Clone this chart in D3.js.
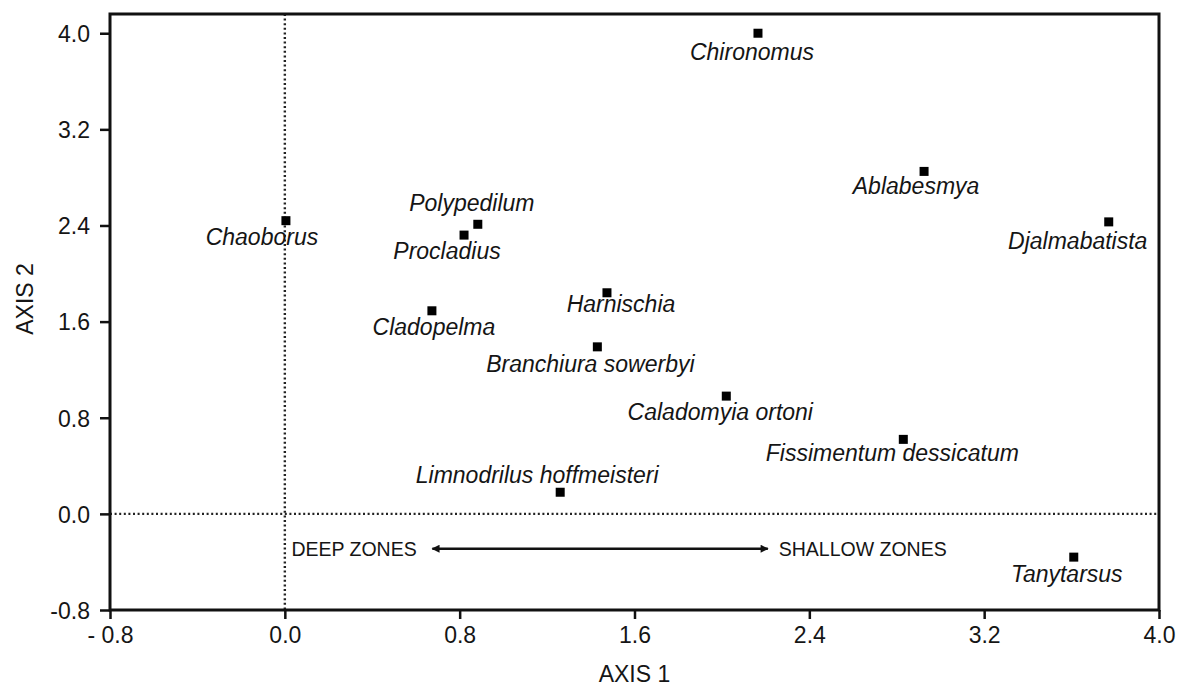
<!DOCTYPE html>
<html>
<head>
<meta charset="utf-8">
<script src="https://cdn.jsdelivr.net/npm/d3@7"></script>
<style>
  body { margin: 0; background: #fff; }
  svg text { font-family: "Liberation Sans", Arial, sans-serif; fill: #151515; }
</style>
</head>
<body>
<div id="chart"></div>
<script>
// ordination scores
const species = ["Chironomus", "Chaoborus", "Polypedilum", "Procladius", "Ablabesmya",
    "Djalmabatista", "Harnischia", "Cladopelma", "Branchiura sowerbyi", "Caladomyia ortoni",
    "Fissimentum dessicatum", "Limnodrilus hoffmeisteri", "Tanytarsus"];
const axis1 = [2.165, 0.005, 0.883, 0.82, 2.925, 3.77, 1.474, 0.673, 1.43, 2.02, 2.83, 1.26, 3.61];
const axis2 = [4.0, 2.44, 2.41, 2.32, 2.85, 2.43, 1.84, 1.69, 1.39, 0.98, 0.62, 0.18, -0.36];

const xTicks = [-0.8, 0, 0.8, 1.6, 2.4, 3.2, 4.0];
const xTickLabels = ["- 0.8", "0.0", "0.8", "1.6", "2.4", "3.2", "4.0"];
const yTicks = [-0.8, 0, 0.8, 1.6, 2.4, 3.2, 4.0];
const yTickLabels = ["-0.8", "0.0", "0.8", "1.6", "2.4", "3.2", "4.0"];

// where each label sits relative to its point (text centre, baseline)
const labelOffset = {
    "Chironomus": [-6, 27], "Chaoborus": [-24, 24], "Polypedilum": [-6, -13],
    "Procladius": [-17, 24], "Ablabesmya": [-8, 23], "Djalmabatista": [-31, 27],
    "Harnischia": [14, 19], "Cladopelma": [2, 24], "Branchiura sowerbyi": [-7, 25],
    "Caladomyia ortoni": [-6, 24], "Fissimentum dessicatum": [-11, 22],
    "Limnodrilus hoffmeisteri": [-23, -9], "Tanytarsus": [-7, 25]
};

const W = 1184, H = 689;
const margin = {left: 110, top: 14, right: 25, bottom: 79};
const w = W - margin.left - margin.right;
const h = H - margin.top - margin.bottom;

const svg = d3.select("#chart").append("svg")
    .attr("width", W)
    .attr("height", H);

const defs = svg.append("defs");
defs.append("marker")
    .attr("id", "head")
    .attr("viewBox", "0 0 10 10")
    .attr("refX", 9).attr("refY", 5)
    .attr("markerWidth", 4).attr("markerHeight", 3.2)
    .attr("orient", "auto-start-reverse")
    .attr("markerUnits", "strokeWidth")
    .append("path").attr("d", "M0,0 L10,5 L0,10 z").attr("fill", "#111");

const g = svg.append("g").attr("transform", `translate(${margin.left},${margin.top})`);

const x = d3.scaleLinear().domain([-0.8, 4.0]).range([0, w]);
const y = d3.scaleLinear().domain([-0.8, 4.16]).range([h, 0]);

// dotted zero lines
g.append("line")
    .attr("x1", x(0)).attr("x2", x(0))
    .attr("y1", 0).attr("y2", h)
    .attr("stroke", "#222").attr("stroke-width", 2.4)
    .attr("stroke-dasharray", "2,2.6");
g.append("line")
    .attr("x1", 0).attr("x2", w)
    .attr("y1", y(0)).attr("y2", y(0))
    .attr("stroke", "#222").attr("stroke-width", 2.4)
    .attr("stroke-dasharray", "2,2.6");

// axes
const xAxis = d3.axisBottom(x).tickValues(xTicks)
    .tickFormat((d, i) => xTickLabels[i]).tickSize(9).tickPadding(8);
const yAxis = d3.axisLeft(y).tickValues(yTicks)
    .tickFormat((d, i) => yTickLabels[i]).tickSize(10).tickPadding(10);

const gx = g.append("g").attr("transform", `translate(0,${h})`).call(xAxis);
const gy = g.append("g").call(yAxis);
[gx, gy].forEach(a => {
    a.select(".domain").remove();
    a.selectAll(".tick line").attr("stroke", "#111").attr("stroke-width", 2.5);
    a.selectAll(".tick text").attr("font-size", 23).attr("fill", "#151515")
        .style("font-family", "'Liberation Sans', Arial, sans-serif");
});
gy.selectAll(".tick text").attr("dy", "0.36em");

// frame
g.append("rect")
    .attr("x", 0).attr("y", 0).attr("width", w).attr("height", h)
    .attr("fill", "none").attr("stroke", "#111").attr("stroke-width", 3);

// points and labels
const pts = g.selectAll(".pt").data(species).enter().append("g").attr("class", "pt");
pts.append("rect")
    .attr("x", (d, i) => x(axis1[i]) - 4.5)
    .attr("y", (d, i) => y(axis2[i]) - 4.5)
    .attr("width", 9).attr("height", 9)
    .attr("fill", "#000");
pts.append("text")
    .attr("x", (d, i) => x(axis1[i]) + labelOffset[d][0])
    .attr("y", (d, i) => y(axis2[i]) + labelOffset[d][1])
    .attr("text-anchor", "middle")
    .attr("font-size", 23)
    .attr("font-style", "italic")
    .text(d => d);

// depth gradient annotation
g.append("text")
    .attr("x", x(0.03)).attr("y", y(-0.35))
    .attr("font-size", 19.5)
    .text("DEEP ZONES");
g.append("line")
    .attr("x1", x(0.675)).attr("x2", x(2.21))
    .attr("y1", y(-0.29)).attr("y2", y(-0.29))
    .attr("stroke", "#111").attr("stroke-width", 2.5)
    .attr("marker-start", "url(#head)")
    .attr("marker-end", "url(#head)");
g.append("text")
    .attr("x", x(2.26)).attr("y", y(-0.35))
    .attr("font-size", 19.5)
    .text("SHALLOW ZONES");

// axis titles
svg.append("text")
    .attr("x", margin.left + x(1.6)).attr("y", 682)
    .attr("text-anchor", "middle")
    .attr("font-size", 23)
    .text("AXIS 1");
svg.append("text")
    .attr("transform", "translate(33,299) rotate(-90)")
    .attr("text-anchor", "middle")
    .attr("font-size", 23)
    .text("AXIS 2");
</script>
</body>
</html>
